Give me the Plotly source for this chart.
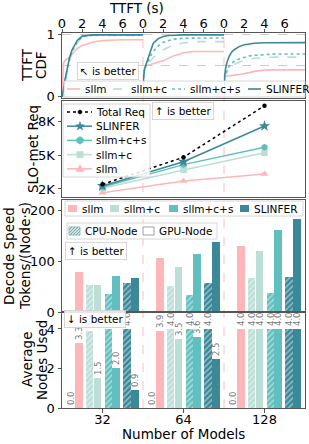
import plotly.graph_objects as go
import math

# ---------------- data ----------------
groups = ["32", "64", "128"]
systems = ["sllm", "sllm+c", "sllm+c+s", "SLINFER"]
colors = ["#FFB6B9", "#BBDED6", "#61C0BF", "#3B8898"]

# TTFT CDF (time grid in seconds, CDF values per system)
cdf_t = [0, 0.05, 0.15, 0.3, 0.5, 0.75, 1.0, 1.5, 2.0, 2.5, 3.0, 4.0, 5.0, 6.0, 8.0]
cdf32_sllm = [0, 0.2, 0.55, 0.59, 0.61, 0.64, 0.69, 0.78, 0.83, 0.86, 0.88, 0.91, 0.92, 0.92, 0.92]
cdf32_c = [0, 0.01, 0.08, 0.22, 0.40, 0.58, 0.70, 0.87, 0.96, 0.985, 0.99, 0.99, 0.99, 0.99, 0.99]
cdf32_cs = [0, 0.02, 0.10, 0.25, 0.43, 0.61, 0.73, 0.89, 0.97, 0.99, 0.995, 0.995, 0.995, 0.995, 0.995]
cdf32_sl = [0, 0.03, 0.12, 0.28, 0.46, 0.64, 0.76, 0.91, 0.98, 0.995, 1.0, 1.0, 1.0, 1.0, 1.0]
cdf64_sllm = [0, 0.3, 0.45, 0.5, 0.51, 0.52, 0.53, 0.55, 0.58, 0.62, 0.66, 0.71, 0.73, 0.73, 0.73]
cdf64_c = [0, 0.3, 0.44, 0.49, 0.53, 0.58, 0.63, 0.70, 0.76, 0.80, 0.83, 0.87, 0.89, 0.89, 0.89]
cdf64_cs = [0, 0.3, 0.45, 0.51, 0.57, 0.66, 0.73, 0.82, 0.88, 0.91, 0.93, 0.945, 0.95, 0.95, 0.95]
cdf64_sl = [0, 0.3, 0.45, 0.52, 0.62, 0.76, 0.86, 0.94, 0.975, 0.99, 0.995, 1.0, 1.0, 1.0, 1.0]
cdf128_sllm = [0, 0.3, 0.33, 0.335, 0.34, 0.345, 0.35, 0.36, 0.37, 0.39, 0.41, 0.43, 0.435, 0.435, 0.435]
cdf128_c = [0, 0.3, 0.35, 0.40, 0.45, 0.49, 0.52, 0.56, 0.59, 0.61, 0.62, 0.635, 0.64, 0.64, 0.64]
cdf128_cs = [0, 0.3, 0.37, 0.43, 0.49, 0.54, 0.57, 0.61, 0.64, 0.66, 0.67, 0.685, 0.69, 0.69, 0.69]
cdf128_sl = [0, 0.32, 0.45, 0.56, 0.65, 0.72, 0.76, 0.81, 0.84, 0.855, 0.865, 0.873, 0.875, 0.875, 0.875]

# SLO-met requests
slo_total = [2410, 4800, 9350]
slo_slinfer = [2270, 4410, 7560]
slo_cs = [2180, 4150, 5680]
slo_c = [2060, 3680, 5200]
slo_sllm = [1670, 2700, 3320]

# Decode speed (tokens / (node*s))
dec_cpu_sllm = [0, 0, 0]
dec_cpu_c = [53, 51, 67]
dec_cpu_cs = [34.5, 32.5, 37]
dec_cpu_sl = [57, 57, 69]
dec_gpu_sllm = [79, 107, 130]
dec_gpu_c = [53, 88, 120]
dec_gpu_cs = [71, 114, 162]
dec_gpu_sl = [67, 137, 182]

# Average nodes used
nod_cpu_sllm = [0.0, 0.0, 0.0]
nod_cpu_c = [3.9, 4.0, 4.0]
nod_cpu_cs = [4.0, 4.0, 4.0]
nod_cpu_sl = [4.0, 4.0, 4.0]
nod_gpu_sllm = [3.3, 3.9, 4.0]
nod_gpu_c = [1.5, 3.5, 4.0]
nod_gpu_cs = [2.0, 3.6, 4.0]
nod_gpu_sl = [0.9, 2.5, 4.0]

# ---------------- layout helpers ----------------
L, R, T, B = 62, 305, 33, 408
W_, H_ = 309, 444
FONT = "DejaVu Sans"
AX = "#555555"


def X(px):
    return (px - L) / (R - L)


def Y(py):
    return (B - py) / (B - T)


dom_cdf = [Y(98), 1.0]
dom_slo = [Y(197), Y(101)]
dom_dec = [Y(312), Y(200)]
dom_nod = [0.0, Y(312)]

fig = go.Figure()

# ---------------- CDF panels ----------------
cdf_sets = [
    (cdf32_sllm, cdf32_c, cdf32_cs, cdf32_sl),
    (cdf64_sllm, cdf64_c, cdf64_cs, cdf64_sl),
    (cdf128_sllm, cdf128_c, cdf128_cs, cdf128_sl),
]
dashes = ["solid", "dash", "dot", "solid"]
for p, curves in enumerate(cdf_sets):
    xa = "x" if p == 0 else f"x{p+1}"
    ya = "y" if p == 0 else f"y{p+1}"
    for s, vals in enumerate(curves):
        fig.add_trace(go.Scatter(
            x=cdf_t, y=vals, mode="lines", xaxis=xa, yaxis=ya,
            line=dict(color=colors[s], width=1.6, dash=dashes[s]),
            showlegend=False, hoverinfo="skip"))

# ---------------- SLO panel ----------------
slo_series = [
    (slo_sllm, colors[0], "triangle-up", 7, "solid"),
    (slo_c, colors[1], "square", 6.5, "solid"),
    (slo_cs, colors[2], "hexagon", 7, "solid"),
    (slo_slinfer, colors[3], "star", 8.5, "solid"),
    (slo_total, "black", "circle", 4.5, "dot"),
]
for vals, col, sym, size, dash in slo_series:
    fig.add_trace(go.Scatter(
        x=[0, 1, 2], y=vals, mode="lines+markers", xaxis="x4", yaxis="y4",
        line=dict(color=col, width=1.5, dash=dash),
        marker=dict(symbol=sym, size=size, color=col, line=dict(width=0)),
        showlegend=False))

# ---------------- bars ----------------
pair_off = [-0.34, -0.111, 0.12, 0.35]
half = 0.049
bw = 0.092
dec_cpu = [dec_cpu_sllm, dec_cpu_c, dec_cpu_cs, dec_cpu_sl]
dec_gpu = [dec_gpu_sllm, dec_gpu_c, dec_gpu_cs, dec_gpu_sl]
nod_cpu = [nod_cpu_sllm, nod_cpu_c, nod_cpu_cs, nod_cpu_sl]
nod_gpu = [nod_gpu_sllm, nod_gpu_c, nod_gpu_cs, nod_gpu_sl]

for s in range(4):
    col = colors[s]
    xc = [g + pair_off[s] - half for g in range(3)]
    xg = [g + pair_off[s] + half for g in range(3)]
    hatch = dict(color=col, line=dict(width=0),
                 pattern=dict(shape="/", fgcolor="white", size=4, solidity=0.35, fillmode="overlay"))
    solid = dict(color=col, line=dict(width=0))
    # decode speed
    fig.add_trace(go.Bar(x=xc, y=dec_cpu[s], width=bw, marker=hatch,
                         xaxis="x5", yaxis="y5", showlegend=False))
    fig.add_trace(go.Bar(x=xg, y=dec_gpu[s], width=bw, marker=solid,
                         xaxis="x5", yaxis="y5", showlegend=False))
    # nodes used
    for xs, vals, mk in ((xc, nod_cpu[s], hatch), (xg, nod_gpu[s], solid)):
        fig.add_trace(go.Bar(
            x=xs, y=vals, width=bw, marker=mk, xaxis="x6", yaxis="y6",
            text=[f"{v:.1f}" for v in vals], textposition="outside", textangle=-90,
            textfont=dict(size=8.5, color="#777777", family=FONT),
            cliponaxis=False, constraintext="none", showlegend=False))

# ---------------- axes ----------------
tickfont = dict(size=13, color="black", family=FONT)
base_x = dict(showline=True, linecolor=AX, linewidth=1, mirror=True, showgrid=False,
              zeroline=False, tickfont=tickfont, tickcolor=AX, ticklen=3.5)
layout_axes = {}
for p in range(3):
    key = "xaxis" if p == 0 else f"xaxis{p+1}"
    layout_axes[key] = dict(base_x, domain=[p / 3, (p + 1) / 3], anchor="y" if p == 0 else f"y{p+1}",
                            side="top", range=[0, 8], tickvals=[0, 2, 4, 6], ticks="outside",
                            ticklabelstandoff=-5)
    ykey = "yaxis" if p == 0 else f"yaxis{p+1}"
    yd = dict(domain=dom_cdf, anchor="x" if p == 0 else f"x{p+1}", range=[-0.02, 1.03],
              tickvals=[0, 1], ticktext=["0", "1"], showgrid=True, gridcolor="#cccccc",
              griddash="dash", gridwidth=1, zeroline=False, tickfont=tickfont,
              minor=dict(tickvals=[0.5], showgrid=True, gridcolor="#cccccc", griddash="dash", ticks=""),
              linecolor=AX, tickcolor=AX, ticklen=3.5)
    if p == 0:
        yd.update(showline=True, mirror=False, ticks="outside")
    elif p == 1:
        yd.update(showline=False, showticklabels=False, ticks="")
    else:
        yd.update(showline=True, mirror=False, side="right", showticklabels=False, ticks="")
    layout_axes[ykey] = yd

cat_x = dict(base_x, range=[-0.5, 2.5], domain=[0, 1])
layout_axes["xaxis4"] = dict(cat_x, anchor="y4", showticklabels=False, ticks="")
layout_axes["xaxis5"] = dict(cat_x, anchor="y5", showticklabels=False, ticks="")
layout_axes["xaxis6"] = dict(cat_x, anchor="y6", tickvals=[0, 1, 2], ticktext=groups, ticks="outside",
                             ticklabelstandoff=-4)
base_y = dict(showline=True, linecolor=AX, mirror=True, showgrid=False, zeroline=False,
              tickfont=tickfont, ticks="outside", tickcolor=AX, ticklen=3.5)
layout_axes["yaxis4"] = dict(base_y, domain=dom_slo, anchor="x4", range=[1290, 9770],
                             tickvals=[2000, 5000, 8000], ticktext=["2K", "5K", "8K"])
layout_axes["yaxis5"] = dict(base_y, domain=dom_dec, anchor="x5", range=[0, 220],
                             tickvals=[0, 100, 200])
layout_axes["yaxis6"] = dict(base_y, domain=dom_nod, anchor="x6", range=[0, 4.86],
                             tickvals=[0, 2, 4])

# ---------------- shapes & annotations ----------------
shapes = []
annos = []
LEG_FONT = dict(size=10.5, color="black", family=FONT)
TITLE_FONT = dict(size=13.5, color="black", family=FONT)

# group dividers
for xv in (1 / 3, 2 / 3):
    shapes.append(dict(type="line", xref="paper", yref="paper", x0=xv, x1=xv, y0=0, y1=1,
                       line=dict(color="#FFB6B9", width=0.9, dash="dash"), layer="below"))


def box(x0, x1, y0, y1):
    shapes.append(dict(type="rect", xref="paper", yref="paper", x0=X(x0), x1=X(x1),
                       y0=Y(y1), y1=Y(y0), line=dict(color="#cccccc", width=0.8),
                       fillcolor="rgba(255,255,255,0.85)", layer="above"))


def text(px, py, s, anchor="left", font=LEG_FONT, angle=0):
    annos.append(dict(x=X(px), y=Y(py), xref="paper", yref="paper", text=s, showarrow=False,
                      xanchor=anchor, yanchor="middle", font=font, textangle=angle))


def hline(x0, x1, py, col, dash="solid", width=1.6):
    shapes.append(dict(type="line", xref="paper", yref="paper", x0=X(x0), x1=X(x1),
                       y0=Y(py), y1=Y(py), line=dict(color=col, width=width, dash=dash), layer="above"))


def poly(pts, col):
    d = "M " + " L ".join(f"{X(a):.5f},{Y(b):.5f}" for a, b in pts) + " Z"
    shapes.append(dict(type="path", xref="paper", yref="paper", path=d, fillcolor=col,
                       line=dict(color=col, width=0.5), layer="above"))


def better(px, py, s):
    annos.append(dict(x=X(px), y=Y(py), xref="paper", yref="paper", text=s, showarrow=False,
                      xanchor="center", yanchor="middle", font=LEG_FONT, bgcolor="rgba(255,255,255,0.85)",
                      bordercolor="#cccccc", borderwidth=0.8, borderpad=2))


# CDF legend
box(64, 305, 81, 97)
cdf_leg = [(67, 83, 0), (113, 129, 1), (172, 188, 2), (248, 264, 3)]
for x0, tx, s in cdf_leg:
    hline(x0, x0 + 13, 89, colors[s], dashes[s])
    text(tx, 89, systems[s])
better(108, 71, "↖ is better")

# SLO legend
box(63, 150, 104, 177)
slo_leg = [("Total Req", "black", "dot", "circle"),
           ("SLINFER", colors[3], "solid", "star"),
           ("sllm+c+s", colors[2], "solid", "hex"),
           ("sllm+c", colors[1], "solid", "square"),
           ("sllm", colors[0], "solid", "tri")]
for i, (lab, col, dash, mk) in enumerate(slo_leg):
    py = 112 + i * 14.2
    hline(67, 92, py, col, dash, 1.5)
    cx = 80
    if mk == "circle":
        pts = [(cx + 2 * math.cos(a * math.pi / 6), py + 2 * math.sin(a * math.pi / 6)) for a in range(12)]
    elif mk == "star":
        pts = []
        for k in range(10):
            r = 4.6 if k % 2 == 0 else 1.9
            a = -math.pi / 2 + k * math.pi / 5
            pts.append((cx + r * math.cos(a), py + r * math.sin(a)))
    elif mk == "hex":
        pts = [(cx + 3.8 * math.cos(-math.pi / 2 + k * math.pi / 3), py + 3.8 * math.sin(-math.pi / 2 + k * math.pi / 3)) for k in range(6)]
    elif mk == "square":
        pts = [(cx - 3.2, py - 3.2), (cx + 3.2, py - 3.2), (cx + 3.2, py + 3.2), (cx - 3.2, py + 3.2)]
    else:
        pts = [(cx, py - 4.2), (cx + 4, py + 2.6), (cx - 4, py + 2.6)]
    poly(pts, col)
    text(94, py, lab)
better(183, 111, "↑ is better")

# Decode legend row 1
box(65, 303, 201, 216)
dec_leg = [(68, 0), (110, 1), (169, 2), (240, 3)]
for x0, s in dec_leg:
    shapes.append(dict(type="rect", xref="paper", yref="paper", x0=X(x0), x1=X(x0 + 9),
                       y0=Y(212), y1=Y(205), fillcolor=colors[s], line=dict(width=0), layer="above"))
    text(x0 + 12, 208.5, systems[s])

# Decode legend row 2 (CPU / GPU node)
box(67, 217, 223, 239)
hx0, hx1, hy0, hy1 = 69, 80, 227, 235
shapes.append(dict(type="rect", xref="paper", yref="paper", x0=X(hx0), x1=X(hx1), y0=Y(hy1), y1=Y(hy0),
                   fillcolor="white", line=dict(color="#7FAFA9", width=0.8), layer="above"))
hh = hy1 - hy0
d = -hh
while d < hx1 - hx0:
    t0 = max(0, -d)
    t1 = min(hh, hx1 - hx0 - d)
    if t1 > t0:
        shapes.append(dict(type="line", xref="paper", yref="paper",
                           x0=X(hx0 + d + t0), y0=Y(hy1 - t0), x1=X(hx0 + d + t1), y1=Y(hy1 - t1),
                           line=dict(color="#7FAFA9", width=1.1), layer="above"))
    d += 3
text(83, 231, "CPU-Node")
shapes.append(dict(type="rect", xref="paper", yref="paper", x0=X(143), x1=X(154), y0=Y(235), y1=Y(227),
                   fillcolor="white", line=dict(color="#888888", width=0.8), layer="above"))
text(157, 231, "GPU-Node")
better(96, 251, "↑ is better")

# Nodes panel
better(95, 319, "↓ is better")

# axis titles
text(136, 8, "TTFT (s)", anchor="center", font=TITLE_FONT)
text(183.5, 434, "Number of Models", anchor="center", font=TITLE_FONT)
text(27, 65, "TTFT", anchor="center", font=TITLE_FONT, angle=-90)
text(41, 65, "CDF", anchor="center", font=TITLE_FONT, angle=-90)
text(33, 149, "SLO-met Req", anchor="center", font=TITLE_FONT, angle=-90)
text(9, 256, "Decode Speed", anchor="center", font=TITLE_FONT, angle=-90)
text(25, 256, "Tokens/(Node·s)", anchor="center", font=TITLE_FONT, angle=-90)
text(27, 360, "Average", anchor="center", font=TITLE_FONT, angle=-90)
text(42, 360, "Nodes Used", anchor="center", font=TITLE_FONT, angle=-90)

fig.update_layout(
    width=W_, height=H_,
    margin=dict(l=L, r=W_ - R, t=T, b=H_ - B, pad=0),
    paper_bgcolor="white", plot_bgcolor="rgba(0,0,0,0)",
    font=dict(family=FONT, color="black"),
    barmode="overlay", bargap=0,
    showlegend=False,
    shapes=shapes, annotations=annos,
    **layout_axes,
)

fig.write_html("out.html", config={"displayModeBar": False},
               post_script="document.body.style.margin='0px';document.body.style.overflow='hidden';")
